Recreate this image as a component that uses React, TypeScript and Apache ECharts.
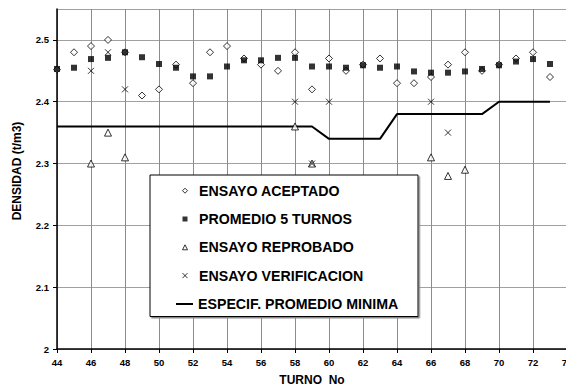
import React, { useEffect, useRef } from "react";
import * as echarts from "echarts";

const turnos = [44, 45, 46, 47, 48, 49, 50, 51, 52, 53, 54, 55, 56, 57, 58, 59, 60, 61, 62, 63, 64, 65, 66, 67, 68, 69, 70, 71, 72, 73];

const ensayoAceptado = [2.452, 2.48, 2.49, 2.5, 2.48, 2.41, 2.42, 2.46, 2.43, 2.48, 2.49, 2.47, 2.46, 2.45, 2.48, 2.42, 2.47, 2.45, 2.46, 2.47, 2.43, 2.43, 2.44, 2.46, 2.48, 2.45, 2.46, 2.47, 2.48, 2.44];

const promedio5Turnos = [2.453, 2.455, 2.469, 2.471, 2.48, 2.472, 2.461, 2.455, 2.441, 2.441, 2.457, 2.467, 2.467, 2.471, 2.471, 2.457, 2.457, 2.455, 2.459, 2.455, 2.457, 2.449, 2.447, 2.447, 2.449, 2.453, 2.459, 2.465, 2.469, 2.461];

const reprobadoTurnos = [46, 47, 48, 58, 59, 66, 67, 68];
const reprobadoValores = [2.3, 2.35, 2.31, 2.36, 2.3, 2.31, 2.28, 2.29];

const verificacionTurnos = [46, 47, 48, 58, 59, 60, 66, 67];
const verificacionValores = [2.45, 2.48, 2.42, 2.4, 2.3, 2.4, 2.4, 2.35];

const especificacion = [2.36, 2.36, 2.36, 2.36, 2.36, 2.36, 2.36, 2.36, 2.36, 2.36, 2.36, 2.36, 2.36, 2.36, 2.36, 2.36, 2.34, 2.34, 2.34, 2.34, 2.38, 2.38, 2.38, 2.38, 2.38, 2.38, 2.4, 2.4, 2.4, 2.4];

const seriesNames = ["ENSAYO ACEPTADO", "PROMEDIO 5 TURNOS", "ENSAYO REPROBADO", "ENSAYO VERIFICACION", "ESPECIF. PROMEDIO MINIMA"];

const FONT = '"Liberation Sans", Arial, sans-serif';

const zip = (xs: number[], ys: number[]) => xs.map((x, i) => [x, ys[i]]);

const markerIcons = ["diamond", "rect", "triangle", "path://M0,0L10,10M0,10L10,0"];
const markerStyles = [
  { color: "#fff", borderColor: "#000", borderWidth: 1 },
  { color: "#000", borderWidth: 0 },
  { color: "#fff", borderColor: "#000", borderWidth: 1 },
  { color: "none", borderColor: "#000", borderWidth: 1 },
];

export default function App() {
  const ref = useRef<HTMLDivElement>(null);
  useEffect(() => {
    if (!ref.current) return;
    const chart = echarts.init(ref.current, undefined, { renderer: "svg" });
    const labelStyle = { color: "#000", fontFamily: FONT, fontWeight: "bold" as const, fontSize: 9.5 };
    const legendText = { color: "#000", fontFamily: FONT, fontWeight: "bold" as const, fontSize: 14.2, lineHeight: 16 };
    chart.setOption({
      animation: false,
      backgroundColor: "#fff",
      grid: { left: 57, top: 9, width: 510, height: 340, containLabel: false, outerBoundsMode: "none" },
      graphic: [
        {
          type: "rect",
          z: 3,
          shape: { x: 150, y: 175, width: 268, height: 141.5 },
          style: { fill: "#fff", stroke: "#000", lineWidth: 1, shadowColor: "#888", shadowOffsetX: 1.5, shadowOffsetY: 1.5, shadowBlur: 0 },
        },
      ],
      xAxis: {
        type: "value",
        min: 44,
        max: 74,
        interval: 2,
        name: "TURNO  No",
        nameLocation: "middle",
        nameGap: 25,
        nameTextStyle: { color: "#000", fontFamily: FONT, fontWeight: "bold", fontSize: 12 },
        axisLine: { lineStyle: { color: "#000", width: 1.5 } },
        axisTick: { show: true, length: 4, lineStyle: { color: "#000", width: 1 } },
        axisLabel: { ...labelStyle, margin: 8 },
        splitLine: { show: true, lineStyle: { color: "#8c8c8c", width: 1 } },
      },
      yAxis: {
        type: "value",
        min: 2,
        max: 2.55,
        interval: 0.1,
        name: "DENSIDAD (t/m3)",
        nameLocation: "middle",
        nameGap: 34,
        nameRotate: 90,
        nameTextStyle: { color: "#000", fontFamily: FONT, fontWeight: "bold", fontSize: 12, padding: [0, 0, 0, 16] },
        axisLine: { show: true, lineStyle: { color: "#000", width: 1.5 } },
        axisTick: { show: true, length: 4, lineStyle: { color: "#000", width: 1 } },
        axisLabel: { ...labelStyle, margin: 8, showMaxLabel: false, formatter: (v: number) => String(Math.round(v * 10) / 10) },
        splitLine: { show: true, lineStyle: { color: "#a0a0a0", width: 1 } },
      },
      legend: [
        {
          left: 180,
          top: 182.7,
          orient: "vertical",
          padding: 0,
          itemWidth: 5,
          itemHeight: 5,
          itemGap: 12.3,
          textStyle: { ...legendText, padding: [0, 0, 0, 6.5] },
          data: seriesNames.slice(0, 4).map((name, i) => ({
            name,
            icon: markerIcons[i],
            itemStyle: markerStyles[i],
          })),
          z: 5,
        },
        {
          left: 176,
          top: 296,
          orient: "vertical",
          padding: 0,
          itemWidth: 17,
          itemHeight: 7,
          textStyle: legendText,
          data: [{ name: seriesNames[4], icon: "path://M0,0L17,0L17,2L0,2Z", itemStyle: { color: "#000", borderWidth: 0 } }],
          z: 5,
        },
      ],
      series: [
        {
          name: seriesNames[0],
          type: "scatter",
          symbol: "diamond",
          symbolSize: 7,
          itemStyle: { color: "#fff", borderColor: "#000", borderWidth: 1 },
          data: zip(turnos, ensayoAceptado),
          z: 2,
        },
        {
          name: seriesNames[1],
          type: "scatter",
          symbol: "rect",
          symbolSize: 6,
          itemStyle: { color: "#000" },
          data: zip(turnos, promedio5Turnos),
          z: 2,
        },
        {
          name: seriesNames[2],
          type: "scatter",
          symbol: "triangle",
          symbolSize: 7,
          itemStyle: { color: "#fff", borderColor: "#000", borderWidth: 1 },
          data: zip(reprobadoTurnos, reprobadoValores),
          z: 2,
        },
        {
          name: seriesNames[3],
          type: "scatter",
          symbol: "path://M0,0L10,10M0,10L10,0",
          symbolSize: 6,
          itemStyle: { color: "none", borderColor: "#000", borderWidth: 1 },
          data: zip(verificacionTurnos, verificacionValores),
          z: 2,
        },
        {
          name: seriesNames[4],
          type: "line",
          symbol: "none",
          lineStyle: { color: "#000", width: 2 },
          itemStyle: { color: "#000" },
          data: zip(turnos, especificacion),
          z: 2,
        },
      ],
    });
    return () => chart.dispose();
  }, []);
  return <div ref={ref} style={{ position: "absolute", left: 0, top: 0, width: 566, height: 389 }} />;
}
